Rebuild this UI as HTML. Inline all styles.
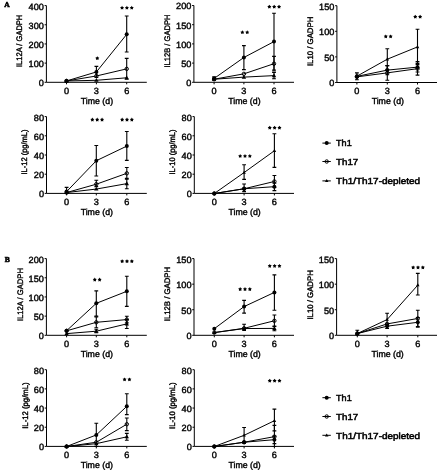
<!DOCTYPE html>
<html><head><meta charset="utf-8"><style>
html,body{margin:0;padding:0;background:#fff;}
svg{display:block;filter:grayscale(1) blur(0.25px);}
text{font-family:"Liberation Sans",sans-serif;fill:#000;text-rendering:geometricPrecision;}
</style></head><body>
<svg width="438" height="471" viewBox="0 0 438 471">
<rect width="438" height="471" fill="#fff"/>
<path d="M46.4 5.6V82.3H146.8" fill="none" stroke="#000" stroke-width="1.0"/>
<path d="M44.6 82.3H46.4" stroke="#000" stroke-width="1.0"/>
<text x="43.9" y="86.25" font-size="9" text-anchor="end" textLength="5.1" lengthAdjust="spacingAndGlyphs" stroke="#000" stroke-width="0.4">0</text>
<path d="M44.6 63.12H46.4" stroke="#000" stroke-width="1.0"/>
<text x="43.9" y="67.08" font-size="9" text-anchor="end" textLength="15.3" lengthAdjust="spacingAndGlyphs" stroke="#000" stroke-width="0.4">100</text>
<path d="M44.6 43.95H46.4" stroke="#000" stroke-width="1.0"/>
<text x="43.9" y="47.9" font-size="9" text-anchor="end" textLength="15.3" lengthAdjust="spacingAndGlyphs" stroke="#000" stroke-width="0.4">200</text>
<path d="M44.6 24.77H46.4" stroke="#000" stroke-width="1.0"/>
<text x="43.9" y="28.72" font-size="9" text-anchor="end" textLength="15.3" lengthAdjust="spacingAndGlyphs" stroke="#000" stroke-width="0.4">300</text>
<path d="M44.6 5.6H46.4" stroke="#000" stroke-width="1.0"/>
<text x="43.9" y="9.55" font-size="9" text-anchor="end" textLength="15.3" lengthAdjust="spacingAndGlyphs" stroke="#000" stroke-width="0.4">400</text>
<path d="M66.5 82.3V84.3" stroke="#000" stroke-width="1.0"/>
<text x="66.5" y="93.8" font-size="9" text-anchor="middle" textLength="5.1" lengthAdjust="spacingAndGlyphs" stroke="#000" stroke-width="0.4">0</text>
<path d="M96.4 82.3V84.3" stroke="#000" stroke-width="1.0"/>
<text x="96.4" y="93.8" font-size="9" text-anchor="middle" textLength="5.1" lengthAdjust="spacingAndGlyphs" stroke="#000" stroke-width="0.4">3</text>
<path d="M126.7 82.3V84.3" stroke="#000" stroke-width="1.0"/>
<text x="126.7" y="93.8" font-size="9" text-anchor="middle" textLength="5.1" lengthAdjust="spacingAndGlyphs" stroke="#000" stroke-width="0.4">6</text>
<text x="96.9" y="103.6" font-size="8.8" text-anchor="middle" textLength="32.3" lengthAdjust="spacingAndGlyphs" stroke="#000" stroke-width="0.4">Time (d)</text>
<text x="22.4" y="40.85" font-size="8" text-anchor="middle" textLength="52.3" lengthAdjust="spacingAndGlyphs" transform="rotate(-90 22.4 40.85)" stroke="#000" stroke-width="0.4">IL12A / GADPH</text>
<path d="M66.5 80.96 L96.4 71.95 L126.7 34.36" fill="none" stroke="#000" stroke-width="1.0"/>
<path d="M66.5 80.96 L96.4 75.97 L126.7 68.88" fill="none" stroke="#000" stroke-width="1.0"/>
<path d="M66.5 80.96 L96.4 80.31 L126.7 77.79" fill="none" stroke="#000" stroke-width="1.0"/>
<path d="M96.4 77.51V66.38M94.5 66.38H98.3M94.5 77.51H98.3" stroke="#000" stroke-width="1.1" fill="none"/>
<path d="M126.7 52V15.95M124.8 15.95H128.6M124.8 52H128.6" stroke="#000" stroke-width="1.1" fill="none"/>
<path d="M126.7 79.23V58.33M124.8 58.33H128.6M124.8 79.23H128.6" stroke="#000" stroke-width="1.1" fill="none"/>
<circle cx="66.5" cy="80.96" r="1.7" fill="none" stroke="#000" stroke-width="1"/>
<circle cx="96.4" cy="75.97" r="1.7" fill="none" stroke="#000" stroke-width="1"/>
<circle cx="126.7" cy="68.88" r="1.7" fill="none" stroke="#000" stroke-width="1"/>
<path d="M66.5 78.58L68.69 82.48L64.31 82.48Z" fill="#000"/>
<path d="M96.4 77.93L98.59 81.83L94.22 81.83Z" fill="#000"/>
<path d="M126.7 75.42L128.88 79.31L124.52 79.31Z" fill="#000"/>
<circle cx="66.5" cy="80.96" r="2" fill="#000"/>
<circle cx="96.4" cy="71.95" r="2" fill="#000"/>
<circle cx="126.7" cy="34.36" r="2" fill="#000"/>
<path d="M97.3 56.2L98.01 57.33L99.3 57.65L98.44 58.67L98.53 60L97.3 59.5L96.07 60L96.16 58.67L95.3 57.65L96.59 57.33Z" fill="#000"/>
<path d="M122.05 5.8L122.76 6.93L124.05 7.25L123.19 8.27L123.28 9.6L122.05 9.1L120.82 9.6L120.91 8.27L120.05 7.25L121.34 6.93Z" fill="#000"/>
<path d="M126.9 5.8L127.61 6.93L128.9 7.25L128.04 8.27L128.13 9.6L126.9 9.1L125.67 9.6L125.76 8.27L124.9 7.25L126.19 6.93Z" fill="#000"/>
<path d="M131.75 5.8L132.46 6.93L133.75 7.25L132.89 8.27L132.98 9.6L131.75 9.1L130.52 9.6L130.61 8.27L129.75 7.25L131.04 6.93Z" fill="#000"/>
<path d="M193.9 5.5V82.3H294" fill="none" stroke="#000" stroke-width="1.0"/>
<path d="M192.1 82.3H193.9" stroke="#000" stroke-width="1.0"/>
<text x="191.4" y="86.25" font-size="9" text-anchor="end" textLength="5.1" lengthAdjust="spacingAndGlyphs" stroke="#000" stroke-width="0.4">0</text>
<path d="M192.1 63.1H193.9" stroke="#000" stroke-width="1.0"/>
<text x="191.4" y="67.05" font-size="9" text-anchor="end" textLength="10.2" lengthAdjust="spacingAndGlyphs" stroke="#000" stroke-width="0.4">50</text>
<path d="M192.1 43.9H193.9" stroke="#000" stroke-width="1.0"/>
<text x="191.4" y="47.85" font-size="9" text-anchor="end" textLength="15.3" lengthAdjust="spacingAndGlyphs" stroke="#000" stroke-width="0.4">100</text>
<path d="M192.1 24.7H193.9" stroke="#000" stroke-width="1.0"/>
<text x="191.4" y="28.65" font-size="9" text-anchor="end" textLength="15.3" lengthAdjust="spacingAndGlyphs" stroke="#000" stroke-width="0.4">150</text>
<path d="M192.1 5.5H193.9" stroke="#000" stroke-width="1.0"/>
<text x="191.4" y="9.45" font-size="9" text-anchor="end" textLength="15.3" lengthAdjust="spacingAndGlyphs" stroke="#000" stroke-width="0.4">200</text>
<path d="M214.1 82.3V84.3" stroke="#000" stroke-width="1.0"/>
<text x="214.1" y="93.8" font-size="9" text-anchor="middle" textLength="5.1" lengthAdjust="spacingAndGlyphs" stroke="#000" stroke-width="0.4">0</text>
<path d="M243.9 82.3V84.3" stroke="#000" stroke-width="1.0"/>
<text x="243.9" y="93.8" font-size="9" text-anchor="middle" textLength="5.1" lengthAdjust="spacingAndGlyphs" stroke="#000" stroke-width="0.4">3</text>
<path d="M274 82.3V84.3" stroke="#000" stroke-width="1.0"/>
<text x="274" y="93.8" font-size="9" text-anchor="middle" textLength="5.1" lengthAdjust="spacingAndGlyphs" stroke="#000" stroke-width="0.4">6</text>
<text x="244.4" y="103.6" font-size="8.8" text-anchor="middle" textLength="32.3" lengthAdjust="spacingAndGlyphs" stroke="#000" stroke-width="0.4">Time (d)</text>
<text x="170.4" y="41.05" font-size="8" text-anchor="middle" textLength="53" lengthAdjust="spacingAndGlyphs" transform="rotate(-90 170.4 41.05)" stroke="#000" stroke-width="0.4">IL12B / GADPH</text>
<path d="M214.1 78.46 L243.9 57.49 L274 41.6" fill="none" stroke="#000" stroke-width="1.0"/>
<path d="M214.1 79.23 L243.9 73.85 L274 63.71" fill="none" stroke="#000" stroke-width="1.0"/>
<path d="M214.1 79.23 L243.9 77.12 L274 75.62" fill="none" stroke="#000" stroke-width="1.0"/>
<path d="M214.1 80V76.92M212.2 76.92H216M212.2 80H216" stroke="#000" stroke-width="1.1" fill="none"/>
<path d="M243.9 69.63V45.59M242 45.59H245.8M242 69.63H245.8" stroke="#000" stroke-width="1.1" fill="none"/>
<path d="M274 70.01V13.18M272.1 13.18H275.9M272.1 70.01H275.9" stroke="#000" stroke-width="1.1" fill="none"/>
<path d="M274 71.01V56.42M272.1 56.42H275.9M272.1 71.01H275.9" stroke="#000" stroke-width="1.1" fill="none"/>
<path d="M274 78.69V72.55M272.1 72.55H275.9M272.1 78.69H275.9" stroke="#000" stroke-width="1.1" fill="none"/>
<circle cx="214.1" cy="79.23" r="1.7" fill="none" stroke="#000" stroke-width="1"/>
<circle cx="243.9" cy="73.85" r="1.7" fill="none" stroke="#000" stroke-width="1"/>
<circle cx="274" cy="63.71" r="1.7" fill="none" stroke="#000" stroke-width="1"/>
<path d="M214.1 76.85L216.28 80.75L211.91 80.75Z" fill="#000"/>
<path d="M243.9 74.74L246.09 78.64L241.72 78.64Z" fill="#000"/>
<path d="M274 73.24L276.19 77.14L271.81 77.14Z" fill="#000"/>
<circle cx="214.1" cy="78.46" r="2" fill="#000"/>
<circle cx="243.9" cy="57.49" r="2" fill="#000"/>
<circle cx="274" cy="41.6" r="2" fill="#000"/>
<path d="M242.38 30.3L243.08 31.43L244.37 31.75L243.52 32.77L243.61 34.1L242.38 33.6L241.14 34.1L241.23 32.77L240.38 31.75L241.67 31.43Z" fill="#000"/>
<path d="M247.23 30.3L247.93 31.43L249.22 31.75L248.37 32.77L248.46 34.1L247.23 33.6L245.99 34.1L246.08 32.77L245.23 31.75L246.52 31.43Z" fill="#000"/>
<path d="M269.35 4.7L270.06 5.83L271.35 6.15L270.49 7.17L270.58 8.5L269.35 8L268.12 8.5L268.21 7.17L267.35 6.15L268.64 5.83Z" fill="#000"/>
<path d="M274.2 4.7L274.91 5.83L276.2 6.15L275.34 7.17L275.43 8.5L274.2 8L272.97 8.5L273.06 7.17L272.2 6.15L273.49 5.83Z" fill="#000"/>
<path d="M279.05 4.7L279.76 5.83L281.05 6.15L280.19 7.17L280.28 8.5L279.05 8L277.82 8.5L277.91 7.17L277.05 6.15L278.34 5.83Z" fill="#000"/>
<path d="M336.9 5.7V82.5H437" fill="none" stroke="#000" stroke-width="1.0"/>
<path d="M335.1 82.5H336.9" stroke="#000" stroke-width="1.0"/>
<text x="334.4" y="86.45" font-size="9" text-anchor="end" textLength="5.1" lengthAdjust="spacingAndGlyphs" stroke="#000" stroke-width="0.4">0</text>
<path d="M335.1 56.9H336.9" stroke="#000" stroke-width="1.0"/>
<text x="334.4" y="60.85" font-size="9" text-anchor="end" textLength="10.2" lengthAdjust="spacingAndGlyphs" stroke="#000" stroke-width="0.4">50</text>
<path d="M335.1 31.3H336.9" stroke="#000" stroke-width="1.0"/>
<text x="334.4" y="35.25" font-size="9" text-anchor="end" textLength="15.3" lengthAdjust="spacingAndGlyphs" stroke="#000" stroke-width="0.4">100</text>
<path d="M335.1 5.7H336.9" stroke="#000" stroke-width="1.0"/>
<text x="334.4" y="9.65" font-size="9" text-anchor="end" textLength="15.3" lengthAdjust="spacingAndGlyphs" stroke="#000" stroke-width="0.4">150</text>
<path d="M356.9 82.5V84.5" stroke="#000" stroke-width="1.0"/>
<text x="356.9" y="94" font-size="9" text-anchor="middle" textLength="5.1" lengthAdjust="spacingAndGlyphs" stroke="#000" stroke-width="0.4">0</text>
<path d="M387.3 82.5V84.5" stroke="#000" stroke-width="1.0"/>
<text x="387.3" y="94" font-size="9" text-anchor="middle" textLength="5.1" lengthAdjust="spacingAndGlyphs" stroke="#000" stroke-width="0.4">3</text>
<path d="M417.5 82.5V84.5" stroke="#000" stroke-width="1.0"/>
<text x="417.5" y="94" font-size="9" text-anchor="middle" textLength="5.1" lengthAdjust="spacingAndGlyphs" stroke="#000" stroke-width="0.4">6</text>
<text x="387.8" y="103.8" font-size="8.8" text-anchor="middle" textLength="32.3" lengthAdjust="spacingAndGlyphs" stroke="#000" stroke-width="0.4">Time (d)</text>
<text x="313.4" y="41.4" font-size="8" text-anchor="middle" textLength="49.4" lengthAdjust="spacingAndGlyphs" transform="rotate(-90 313.4 41.4)" stroke="#000" stroke-width="0.4">IL10 / GADPH</text>
<path d="M356.9 76.2 L387.3 59.2 L417.5 46.92" fill="none" stroke="#000" stroke-width="1.0"/>
<path d="M356.9 76.36 L387.3 70.11 L417.5 67.14" fill="none" stroke="#000" stroke-width="1.0"/>
<path d="M356.9 76.87 L387.3 72.87 L417.5 68.68" fill="none" stroke="#000" stroke-width="1.0"/>
<path d="M356.9 79.79V72.87M355 72.87H358.8M355 79.79H358.8" stroke="#000" stroke-width="1.1" fill="none"/>
<path d="M387.3 69.44V48.81M385.4 48.81H389.2M385.4 69.44H389.2" stroke="#000" stroke-width="1.1" fill="none"/>
<path d="M417.5 64.58V29.25M415.6 29.25H419.4M415.6 64.58H419.4" stroke="#000" stroke-width="1.1" fill="none"/>
<path d="M387.3 74.82V65.6M385.4 65.6H389.2M385.4 74.82H389.2" stroke="#000" stroke-width="1.1" fill="none"/>
<path d="M417.5 72V61.61M415.6 61.61H419.4M415.6 72H419.4" stroke="#000" stroke-width="1.1" fill="none"/>
<path d="M387.3 80.2V65.6M385.4 65.6H389.2M385.4 80.2H389.2" stroke="#000" stroke-width="1.1" fill="none"/>
<path d="M417.5 75.08V63.4M415.6 63.4H419.4M415.6 75.08H419.4" stroke="#000" stroke-width="1.1" fill="none"/>
<circle cx="356.9" cy="76.87" r="1.7" fill="none" stroke="#000" stroke-width="1"/>
<circle cx="387.3" cy="72.87" r="1.7" fill="none" stroke="#000" stroke-width="1"/>
<circle cx="417.5" cy="68.68" r="1.7" fill="none" stroke="#000" stroke-width="1"/>
<path d="M356.9 74.3L358.65 77.42L355.15 77.42Z" fill="#000"/>
<path d="M387.3 57.3L389.05 60.42L385.55 60.42Z" fill="#000"/>
<path d="M417.5 45.02L419.25 48.13L415.75 48.13Z" fill="#000"/>
<circle cx="356.9" cy="76.36" r="2" fill="#000"/>
<circle cx="387.3" cy="70.11" r="2" fill="#000"/>
<circle cx="417.5" cy="67.14" r="2" fill="#000"/>
<path d="M385.77 34.4L386.48 35.53L387.77 35.85L386.92 36.87L387.01 38.2L385.77 37.7L384.54 38.2L384.63 36.87L383.78 35.85L385.07 35.53Z" fill="#000"/>
<path d="M390.62 34.4L391.33 35.53L392.62 35.85L391.77 36.87L391.86 38.2L390.62 37.7L389.39 38.2L389.48 36.87L388.63 35.85L389.92 35.53Z" fill="#000"/>
<path d="M415.27 14.7L415.98 15.83L417.27 16.15L416.42 17.17L416.51 18.5L415.27 18L414.04 18.5L414.13 17.17L413.28 16.15L414.57 15.83Z" fill="#000"/>
<path d="M420.12 14.7L420.83 15.83L422.12 16.15L421.27 17.17L421.36 18.5L420.12 18L418.89 18.5L418.98 17.17L418.13 16.15L419.42 15.83Z" fill="#000"/>
<path d="M46.5 116.6V193.4H146.8" fill="none" stroke="#000" stroke-width="1.0"/>
<path d="M44.7 193.4H46.5" stroke="#000" stroke-width="1.0"/>
<text x="44" y="197.35" font-size="9" text-anchor="end" textLength="5.1" lengthAdjust="spacingAndGlyphs" stroke="#000" stroke-width="0.4">0</text>
<path d="M44.7 174.2H46.5" stroke="#000" stroke-width="1.0"/>
<text x="44" y="178.15" font-size="9" text-anchor="end" textLength="10.2" lengthAdjust="spacingAndGlyphs" stroke="#000" stroke-width="0.4">20</text>
<path d="M44.7 155H46.5" stroke="#000" stroke-width="1.0"/>
<text x="44" y="158.95" font-size="9" text-anchor="end" textLength="10.2" lengthAdjust="spacingAndGlyphs" stroke="#000" stroke-width="0.4">40</text>
<path d="M44.7 135.8H46.5" stroke="#000" stroke-width="1.0"/>
<text x="44" y="139.75" font-size="9" text-anchor="end" textLength="10.2" lengthAdjust="spacingAndGlyphs" stroke="#000" stroke-width="0.4">60</text>
<path d="M44.7 116.6H46.5" stroke="#000" stroke-width="1.0"/>
<text x="44" y="120.55" font-size="9" text-anchor="end" textLength="10.2" lengthAdjust="spacingAndGlyphs" stroke="#000" stroke-width="0.4">80</text>
<path d="M66.6 193.4V195.4" stroke="#000" stroke-width="1.0"/>
<text x="66.6" y="204.9" font-size="9" text-anchor="middle" textLength="5.1" lengthAdjust="spacingAndGlyphs" stroke="#000" stroke-width="0.4">0</text>
<path d="M96.3 193.4V195.4" stroke="#000" stroke-width="1.0"/>
<text x="96.3" y="204.9" font-size="9" text-anchor="middle" textLength="5.1" lengthAdjust="spacingAndGlyphs" stroke="#000" stroke-width="0.4">3</text>
<path d="M126.8 193.4V195.4" stroke="#000" stroke-width="1.0"/>
<text x="126.8" y="204.9" font-size="9" text-anchor="middle" textLength="5.1" lengthAdjust="spacingAndGlyphs" stroke="#000" stroke-width="0.4">6</text>
<text x="96.8" y="214.7" font-size="8.8" text-anchor="middle" textLength="32.3" lengthAdjust="spacingAndGlyphs" stroke="#000" stroke-width="0.4">Time (d)</text>
<text x="27.4" y="152" font-size="8" text-anchor="middle" textLength="45" lengthAdjust="spacingAndGlyphs" transform="rotate(-90 27.4 152)" stroke="#000" stroke-width="0.4">IL-12 (pg/mL)</text>
<path d="M66.6 191.6 L96.3 160.72 L126.8 146.12" fill="none" stroke="#000" stroke-width="1.0"/>
<path d="M66.6 192.55 L96.3 184.21 L126.8 173.32" fill="none" stroke="#000" stroke-width="1.0"/>
<path d="M66.6 192.55 L96.3 189.05 L126.8 183.65" fill="none" stroke="#000" stroke-width="1.0"/>
<path d="M66.6 193.5V187.34M64.7 187.34H68.5M64.7 193.5H68.5" stroke="#000" stroke-width="1.1" fill="none"/>
<path d="M96.3 176.07V145.56M94.4 145.56H98.2M94.4 176.07H98.2" stroke="#000" stroke-width="1.1" fill="none"/>
<path d="M126.8 160.34V131.44M124.9 131.44H128.7M124.9 160.34H128.7" stroke="#000" stroke-width="1.1" fill="none"/>
<path d="M96.3 186.58V180.24M94.4 180.24H98.2M94.4 186.58H98.2" stroke="#000" stroke-width="1.1" fill="none"/>
<path d="M126.8 179.29V167.44M124.9 167.44H128.7M124.9 179.29H128.7" stroke="#000" stroke-width="1.1" fill="none"/>
<path d="M126.8 188.76V178.34M124.9 178.34H128.7M124.9 188.76H128.7" stroke="#000" stroke-width="1.1" fill="none"/>
<circle cx="66.6" cy="192.55" r="1.7" fill="none" stroke="#000" stroke-width="1"/>
<circle cx="96.3" cy="184.21" r="1.7" fill="none" stroke="#000" stroke-width="1"/>
<circle cx="126.8" cy="173.32" r="1.7" fill="none" stroke="#000" stroke-width="1"/>
<path d="M66.6 190.18L68.78 194.07L64.41 194.07Z" fill="#000"/>
<path d="M96.3 186.67L98.48 190.57L94.11 190.57Z" fill="#000"/>
<path d="M126.8 181.27L128.98 185.17L124.61 185.17Z" fill="#000"/>
<circle cx="66.6" cy="191.6" r="2" fill="#000"/>
<circle cx="96.3" cy="160.72" r="2" fill="#000"/>
<circle cx="126.8" cy="146.12" r="2" fill="#000"/>
<path d="M92.35 117.6L93.06 118.73L94.35 119.05L93.49 120.07L93.58 121.4L92.35 120.9L91.12 121.4L91.21 120.07L90.35 119.05L91.64 118.73Z" fill="#000"/>
<path d="M97.2 117.6L97.91 118.73L99.2 119.05L98.34 120.07L98.43 121.4L97.2 120.9L95.97 121.4L96.06 120.07L95.2 119.05L96.49 118.73Z" fill="#000"/>
<path d="M102.05 117.6L102.76 118.73L104.05 119.05L103.19 120.07L103.28 121.4L102.05 120.9L100.82 121.4L100.91 120.07L100.05 119.05L101.34 118.73Z" fill="#000"/>
<path d="M122.15 117.6L122.86 118.73L124.15 119.05L123.29 120.07L123.38 121.4L122.15 120.9L120.92 121.4L121.01 120.07L120.15 119.05L121.44 118.73Z" fill="#000"/>
<path d="M127 117.6L127.71 118.73L129 119.05L128.14 120.07L128.23 121.4L127 120.9L125.77 121.4L125.86 120.07L125 119.05L126.29 118.73Z" fill="#000"/>
<path d="M131.85 117.6L132.56 118.73L133.85 119.05L132.99 120.07L133.08 121.4L131.85 120.9L130.62 121.4L130.71 120.07L129.85 119.05L131.14 118.73Z" fill="#000"/>
<path d="M194.3 116.6V193.4H294" fill="none" stroke="#000" stroke-width="1.0"/>
<path d="M192.5 193.4H194.3" stroke="#000" stroke-width="1.0"/>
<text x="191.8" y="197.35" font-size="9" text-anchor="end" textLength="5.1" lengthAdjust="spacingAndGlyphs" stroke="#000" stroke-width="0.4">0</text>
<path d="M192.5 174.2H194.3" stroke="#000" stroke-width="1.0"/>
<text x="191.8" y="178.15" font-size="9" text-anchor="end" textLength="10.2" lengthAdjust="spacingAndGlyphs" stroke="#000" stroke-width="0.4">20</text>
<path d="M192.5 155H194.3" stroke="#000" stroke-width="1.0"/>
<text x="191.8" y="158.95" font-size="9" text-anchor="end" textLength="10.2" lengthAdjust="spacingAndGlyphs" stroke="#000" stroke-width="0.4">40</text>
<path d="M192.5 135.8H194.3" stroke="#000" stroke-width="1.0"/>
<text x="191.8" y="139.75" font-size="9" text-anchor="end" textLength="10.2" lengthAdjust="spacingAndGlyphs" stroke="#000" stroke-width="0.4">60</text>
<path d="M192.5 116.6H194.3" stroke="#000" stroke-width="1.0"/>
<text x="191.8" y="120.55" font-size="9" text-anchor="end" textLength="10.2" lengthAdjust="spacingAndGlyphs" stroke="#000" stroke-width="0.4">80</text>
<path d="M214.3 193.4V195.4" stroke="#000" stroke-width="1.0"/>
<text x="214.3" y="204.9" font-size="9" text-anchor="middle" textLength="5.1" lengthAdjust="spacingAndGlyphs" stroke="#000" stroke-width="0.4">0</text>
<path d="M244.1 193.4V195.4" stroke="#000" stroke-width="1.0"/>
<text x="244.1" y="204.9" font-size="9" text-anchor="middle" textLength="5.1" lengthAdjust="spacingAndGlyphs" stroke="#000" stroke-width="0.4">3</text>
<path d="M274.4 193.4V195.4" stroke="#000" stroke-width="1.0"/>
<text x="274.4" y="204.9" font-size="9" text-anchor="middle" textLength="5.1" lengthAdjust="spacingAndGlyphs" stroke="#000" stroke-width="0.4">6</text>
<text x="244.6" y="214.7" font-size="8.8" text-anchor="middle" textLength="32.3" lengthAdjust="spacingAndGlyphs" stroke="#000" stroke-width="0.4">Time (d)</text>
<text x="174.9" y="152" font-size="8" text-anchor="middle" textLength="45" lengthAdjust="spacingAndGlyphs" transform="rotate(-90 174.9 152)" stroke="#000" stroke-width="0.4">IL-10 (pg/mL)</text>
<path d="M214.3 193.5 L244.1 172.56 L274.4 150.77" fill="none" stroke="#000" stroke-width="1.0"/>
<path d="M214.3 193.5 L244.1 188.76 L274.4 181.47" fill="none" stroke="#000" stroke-width="1.0"/>
<path d="M214.3 193.5 L244.1 188.76 L274.4 186.68" fill="none" stroke="#000" stroke-width="1.0"/>
<path d="M244.1 179.38V164.7M242.2 164.7H246M242.2 179.38H246" stroke="#000" stroke-width="1.1" fill="none"/>
<path d="M274.4 167.35V133.71M272.5 133.71H276.3M272.5 167.35H276.3" stroke="#000" stroke-width="1.1" fill="none"/>
<path d="M244.1 191.6V184.03M242.2 184.03H246M242.2 191.6H246" stroke="#000" stroke-width="1.1" fill="none"/>
<path d="M274.4 187.53V175.5M272.5 175.5H276.3M272.5 187.53H276.3" stroke="#000" stroke-width="1.1" fill="none"/>
<path d="M274.4 190.66V183.08M272.5 183.08H276.3M272.5 190.66H276.3" stroke="#000" stroke-width="1.1" fill="none"/>
<circle cx="214.3" cy="193.5" r="1.7" fill="none" stroke="#000" stroke-width="1"/>
<circle cx="244.1" cy="188.76" r="1.7" fill="none" stroke="#000" stroke-width="1"/>
<circle cx="274.4" cy="181.47" r="1.7" fill="none" stroke="#000" stroke-width="1"/>
<path d="M214.3 191.6L216.05 194.72L212.55 194.72Z" fill="#000"/>
<path d="M244.1 170.66L245.85 173.78L242.35 173.78Z" fill="#000"/>
<path d="M274.4 148.87L276.15 151.98L272.65 151.98Z" fill="#000"/>
<circle cx="214.3" cy="193.5" r="2" fill="#000"/>
<circle cx="244.1" cy="188.76" r="2" fill="#000"/>
<circle cx="274.4" cy="186.68" r="2" fill="#000"/>
<path d="M240.15 154L240.86 155.13L242.15 155.45L241.29 156.47L241.38 157.8L240.15 157.3L238.92 157.8L239.01 156.47L238.15 155.45L239.44 155.13Z" fill="#000"/>
<path d="M245 154L245.71 155.13L247 155.45L246.14 156.47L246.23 157.8L245 157.3L243.77 157.8L243.86 156.47L243 155.45L244.29 155.13Z" fill="#000"/>
<path d="M249.85 154L250.56 155.13L251.85 155.45L250.99 156.47L251.08 157.8L249.85 157.3L248.62 157.8L248.71 156.47L247.85 155.45L249.14 155.13Z" fill="#000"/>
<path d="M269.75 125.7L270.46 126.83L271.75 127.15L270.89 128.17L270.98 129.5L269.75 129L268.52 129.5L268.61 128.17L267.75 127.15L269.04 126.83Z" fill="#000"/>
<path d="M274.6 125.7L275.31 126.83L276.6 127.15L275.74 128.17L275.83 129.5L274.6 129L273.37 129.5L273.46 128.17L272.6 127.15L273.89 126.83Z" fill="#000"/>
<path d="M279.45 125.7L280.16 126.83L281.45 127.15L280.59 128.17L280.68 129.5L279.45 129L278.22 129.5L278.31 128.17L277.45 127.15L278.74 126.83Z" fill="#000"/>
<path d="M46.4 258.6V335.3H146.8" fill="none" stroke="#000" stroke-width="1.0"/>
<path d="M44.6 335.3H46.4" stroke="#000" stroke-width="1.0"/>
<text x="43.9" y="339.25" font-size="9" text-anchor="end" textLength="5.1" lengthAdjust="spacingAndGlyphs" stroke="#000" stroke-width="0.4">0</text>
<path d="M44.6 316.12H46.4" stroke="#000" stroke-width="1.0"/>
<text x="43.9" y="320.07" font-size="9" text-anchor="end" textLength="10.2" lengthAdjust="spacingAndGlyphs" stroke="#000" stroke-width="0.4">50</text>
<path d="M44.6 296.95H46.4" stroke="#000" stroke-width="1.0"/>
<text x="43.9" y="300.9" font-size="9" text-anchor="end" textLength="15.3" lengthAdjust="spacingAndGlyphs" stroke="#000" stroke-width="0.4">100</text>
<path d="M44.6 277.78H46.4" stroke="#000" stroke-width="1.0"/>
<text x="43.9" y="281.73" font-size="9" text-anchor="end" textLength="15.3" lengthAdjust="spacingAndGlyphs" stroke="#000" stroke-width="0.4">150</text>
<path d="M44.6 258.6H46.4" stroke="#000" stroke-width="1.0"/>
<text x="43.9" y="262.55" font-size="9" text-anchor="end" textLength="15.3" lengthAdjust="spacingAndGlyphs" stroke="#000" stroke-width="0.4">200</text>
<path d="M66.6 335.3V337.3" stroke="#000" stroke-width="1.0"/>
<text x="66.6" y="346.8" font-size="9" text-anchor="middle" textLength="5.1" lengthAdjust="spacingAndGlyphs" stroke="#000" stroke-width="0.4">0</text>
<path d="M96.3 335.3V337.3" stroke="#000" stroke-width="1.0"/>
<text x="96.3" y="346.8" font-size="9" text-anchor="middle" textLength="5.1" lengthAdjust="spacingAndGlyphs" stroke="#000" stroke-width="0.4">3</text>
<path d="M126.8 335.3V337.3" stroke="#000" stroke-width="1.0"/>
<text x="126.8" y="346.8" font-size="9" text-anchor="middle" textLength="5.1" lengthAdjust="spacingAndGlyphs" stroke="#000" stroke-width="0.4">6</text>
<text x="96.8" y="356.6" font-size="8.8" text-anchor="middle" textLength="32.3" lengthAdjust="spacingAndGlyphs" stroke="#000" stroke-width="0.4">Time (d)</text>
<text x="23.2" y="294.55" font-size="8" text-anchor="middle" textLength="53" lengthAdjust="spacingAndGlyphs" transform="rotate(-90 23.2 294.55)" stroke="#000" stroke-width="0.4">IL12A / GADPH</text>
<path d="M66.6 330.71 L96.3 303.3 L126.8 291.32" fill="none" stroke="#000" stroke-width="1.0"/>
<path d="M66.6 330.82 L96.3 322.31 L126.8 319.59" fill="none" stroke="#000" stroke-width="1.0"/>
<path d="M66.6 333.62 L96.3 331.2 L126.8 323.9" fill="none" stroke="#000" stroke-width="1.0"/>
<path d="M96.3 316.12V290.9M94.4 290.9H98.2M94.4 316.12H98.2" stroke="#000" stroke-width="1.1" fill="none"/>
<path d="M126.8 306.4V276.2M124.9 276.2H128.7M124.9 306.4H128.7" stroke="#000" stroke-width="1.1" fill="none"/>
<path d="M96.3 327.8V316.83M94.4 316.83H98.2M94.4 327.8H98.2" stroke="#000" stroke-width="1.1" fill="none"/>
<path d="M126.8 322.88V316.3M124.9 316.3H128.7M124.9 322.88H128.7" stroke="#000" stroke-width="1.1" fill="none"/>
<path d="M96.3 332.71V329.31M94.4 329.31H98.2M94.4 332.71H98.2" stroke="#000" stroke-width="1.1" fill="none"/>
<path d="M126.8 328.55V319.48M124.9 319.48H128.7M124.9 328.55H128.7" stroke="#000" stroke-width="1.1" fill="none"/>
<circle cx="66.6" cy="330.82" r="1.7" fill="none" stroke="#000" stroke-width="1"/>
<circle cx="96.3" cy="322.31" r="1.7" fill="none" stroke="#000" stroke-width="1"/>
<circle cx="126.8" cy="319.59" r="1.7" fill="none" stroke="#000" stroke-width="1"/>
<path d="M66.6 331.24L68.78 335.14L64.41 335.14Z" fill="#000"/>
<path d="M96.3 328.82L98.48 332.72L94.11 332.72Z" fill="#000"/>
<path d="M126.8 321.53L128.98 325.42L124.61 325.42Z" fill="#000"/>
<circle cx="66.6" cy="330.71" r="2" fill="#000"/>
<circle cx="96.3" cy="303.3" r="2" fill="#000"/>
<circle cx="126.8" cy="291.32" r="2" fill="#000"/>
<path d="M94.78 277.6L95.48 278.73L96.77 279.05L95.92 280.07L96.01 281.4L94.78 280.9L93.54 281.4L93.63 280.07L92.78 279.05L94.07 278.73Z" fill="#000"/>
<path d="M99.62 277.6L100.33 278.73L101.62 279.05L100.77 280.07L100.86 281.4L99.62 280.9L98.39 281.4L98.48 280.07L97.63 279.05L98.92 278.73Z" fill="#000"/>
<path d="M122.15 259.2L122.86 260.33L124.15 260.65L123.29 261.67L123.38 263L122.15 262.5L120.92 263L121.01 261.67L120.15 260.65L121.44 260.33Z" fill="#000"/>
<path d="M127 259.2L127.71 260.33L129 260.65L128.14 261.67L128.23 263L127 262.5L125.77 263L125.86 261.67L125 260.65L126.29 260.33Z" fill="#000"/>
<path d="M131.85 259.2L132.56 260.33L133.85 260.65L132.99 261.67L133.08 263L131.85 262.5L130.62 263L130.71 261.67L129.85 260.65L131.14 260.33Z" fill="#000"/>
<path d="M194 258.6V335.3H294" fill="none" stroke="#000" stroke-width="1.0"/>
<path d="M192.2 335.3H194" stroke="#000" stroke-width="1.0"/>
<text x="191.5" y="339.25" font-size="9" text-anchor="end" textLength="5.1" lengthAdjust="spacingAndGlyphs" stroke="#000" stroke-width="0.4">0</text>
<path d="M192.2 309.73H194" stroke="#000" stroke-width="1.0"/>
<text x="191.5" y="313.68" font-size="9" text-anchor="end" textLength="10.2" lengthAdjust="spacingAndGlyphs" stroke="#000" stroke-width="0.4">50</text>
<path d="M192.2 284.17H194" stroke="#000" stroke-width="1.0"/>
<text x="191.5" y="288.12" font-size="9" text-anchor="end" textLength="15.3" lengthAdjust="spacingAndGlyphs" stroke="#000" stroke-width="0.4">100</text>
<path d="M192.2 258.6H194" stroke="#000" stroke-width="1.0"/>
<text x="191.5" y="262.55" font-size="9" text-anchor="end" textLength="15.3" lengthAdjust="spacingAndGlyphs" stroke="#000" stroke-width="0.4">150</text>
<path d="M214.3 335.3V337.3" stroke="#000" stroke-width="1.0"/>
<text x="214.3" y="346.8" font-size="9" text-anchor="middle" textLength="5.1" lengthAdjust="spacingAndGlyphs" stroke="#000" stroke-width="0.4">0</text>
<path d="M244.1 335.3V337.3" stroke="#000" stroke-width="1.0"/>
<text x="244.1" y="346.8" font-size="9" text-anchor="middle" textLength="5.1" lengthAdjust="spacingAndGlyphs" stroke="#000" stroke-width="0.4">3</text>
<path d="M274.4 335.3V337.3" stroke="#000" stroke-width="1.0"/>
<text x="274.4" y="346.8" font-size="9" text-anchor="middle" textLength="5.1" lengthAdjust="spacingAndGlyphs" stroke="#000" stroke-width="0.4">6</text>
<text x="244.6" y="356.6" font-size="8.8" text-anchor="middle" textLength="32.3" lengthAdjust="spacingAndGlyphs" stroke="#000" stroke-width="0.4">Time (d)</text>
<text x="169.8" y="294.1" font-size="8" text-anchor="middle" textLength="54.3" lengthAdjust="spacingAndGlyphs" transform="rotate(-90 169.8 294.1)" stroke="#000" stroke-width="0.4">IL12B / GADPH</text>
<path d="M214.3 328.7 L244.1 306.58 L274.4 292.42" fill="none" stroke="#000" stroke-width="1.0"/>
<path d="M214.3 332.58 L244.1 328.3 L274.4 320.79" fill="none" stroke="#000" stroke-width="1.0"/>
<path d="M214.3 332.58 L244.1 328.55 L274.4 328.4" fill="none" stroke="#000" stroke-width="1.0"/>
<path d="M244.1 313.08V300.33M242.2 300.33H246M242.2 313.08H246" stroke="#000" stroke-width="1.1" fill="none"/>
<path d="M274.4 310.21V274.88M272.5 274.88H276.3M272.5 310.21H276.3" stroke="#000" stroke-width="1.1" fill="none"/>
<path d="M244.1 330.57V324.22M242.2 324.22H246M242.2 330.57H246" stroke="#000" stroke-width="1.1" fill="none"/>
<path d="M274.4 326.54V314.99M272.5 314.99H276.3M272.5 326.54H276.3" stroke="#000" stroke-width="1.1" fill="none"/>
<path d="M274.4 330.82V326.03M272.5 326.03H276.3M272.5 330.82H276.3" stroke="#000" stroke-width="1.1" fill="none"/>
<circle cx="214.3" cy="332.58" r="1.7" fill="none" stroke="#000" stroke-width="1"/>
<circle cx="244.1" cy="328.3" r="1.7" fill="none" stroke="#000" stroke-width="1"/>
<circle cx="274.4" cy="320.79" r="1.7" fill="none" stroke="#000" stroke-width="1"/>
<path d="M214.3 330.21L216.49 334.1L212.12 334.1Z" fill="#000"/>
<path d="M244.1 326.18L246.28 330.07L241.91 330.07Z" fill="#000"/>
<path d="M274.4 326.03L276.58 329.92L272.21 329.92Z" fill="#000"/>
<circle cx="214.3" cy="328.7" r="2" fill="#000"/>
<circle cx="244.1" cy="306.58" r="2" fill="#000"/>
<circle cx="274.4" cy="292.42" r="2" fill="#000"/>
<path d="M240.15 287.1L240.86 288.23L242.15 288.55L241.29 289.57L241.38 290.9L240.15 290.4L238.92 290.9L239.01 289.57L238.15 288.55L239.44 288.23Z" fill="#000"/>
<path d="M245 287.1L245.71 288.23L247 288.55L246.14 289.57L246.23 290.9L245 290.4L243.77 290.9L243.86 289.57L243 288.55L244.29 288.23Z" fill="#000"/>
<path d="M249.85 287.1L250.56 288.23L251.85 288.55L250.99 289.57L251.08 290.9L249.85 290.4L248.62 290.9L248.71 289.57L247.85 288.55L249.14 288.23Z" fill="#000"/>
<path d="M269.75 263.9L270.46 265.03L271.75 265.35L270.89 266.37L270.98 267.7L269.75 267.2L268.52 267.7L268.61 266.37L267.75 265.35L269.04 265.03Z" fill="#000"/>
<path d="M274.6 263.9L275.31 265.03L276.6 265.35L275.74 266.37L275.83 267.7L274.6 267.2L273.37 267.7L273.46 266.37L272.6 265.35L273.89 265.03Z" fill="#000"/>
<path d="M279.45 263.9L280.16 265.03L281.45 265.35L280.59 266.37L280.68 267.7L279.45 267.2L278.22 267.7L278.31 266.37L277.45 265.35L278.74 265.03Z" fill="#000"/>
<path d="M336.6 258.6V335.3H437" fill="none" stroke="#000" stroke-width="1.0"/>
<path d="M334.8 335.3H336.6" stroke="#000" stroke-width="1.0"/>
<text x="334.1" y="339.25" font-size="9" text-anchor="end" textLength="5.1" lengthAdjust="spacingAndGlyphs" stroke="#000" stroke-width="0.4">0</text>
<path d="M334.8 309.73H336.6" stroke="#000" stroke-width="1.0"/>
<text x="334.1" y="313.68" font-size="9" text-anchor="end" textLength="10.2" lengthAdjust="spacingAndGlyphs" stroke="#000" stroke-width="0.4">50</text>
<path d="M334.8 284.17H336.6" stroke="#000" stroke-width="1.0"/>
<text x="334.1" y="288.12" font-size="9" text-anchor="end" textLength="15.3" lengthAdjust="spacingAndGlyphs" stroke="#000" stroke-width="0.4">100</text>
<path d="M334.8 258.6H336.6" stroke="#000" stroke-width="1.0"/>
<text x="334.1" y="262.55" font-size="9" text-anchor="end" textLength="15.3" lengthAdjust="spacingAndGlyphs" stroke="#000" stroke-width="0.4">150</text>
<path d="M357.3 335.3V337.3" stroke="#000" stroke-width="1.0"/>
<text x="357.3" y="346.8" font-size="9" text-anchor="middle" textLength="5.1" lengthAdjust="spacingAndGlyphs" stroke="#000" stroke-width="0.4">0</text>
<path d="M387.1 335.3V337.3" stroke="#000" stroke-width="1.0"/>
<text x="387.1" y="346.8" font-size="9" text-anchor="middle" textLength="5.1" lengthAdjust="spacingAndGlyphs" stroke="#000" stroke-width="0.4">3</text>
<path d="M417.8 335.3V337.3" stroke="#000" stroke-width="1.0"/>
<text x="417.8" y="346.8" font-size="9" text-anchor="middle" textLength="5.1" lengthAdjust="spacingAndGlyphs" stroke="#000" stroke-width="0.4">6</text>
<text x="387.6" y="356.6" font-size="8.8" text-anchor="middle" textLength="32.3" lengthAdjust="spacingAndGlyphs" stroke="#000" stroke-width="0.4">Time (d)</text>
<text x="313.2" y="294.9" font-size="8" text-anchor="middle" textLength="49.4" lengthAdjust="spacingAndGlyphs" transform="rotate(-90 313.2 294.9)" stroke="#000" stroke-width="0.4">IL10 / GADPH</text>
<path d="M357.3 333.59 L387.1 319.58 L417.8 285.11" fill="none" stroke="#000" stroke-width="1.0"/>
<path d="M357.3 333.59 L387.1 323.92 L417.8 318.47" fill="none" stroke="#000" stroke-width="1.0"/>
<path d="M357.3 333.59 L387.1 326.18 L417.8 322.3" fill="none" stroke="#000" stroke-width="1.0"/>
<path d="M357.3 334.6V330.32M355.4 330.32H359.2M355.4 334.6H359.2" stroke="#000" stroke-width="1.1" fill="none"/>
<path d="M387.1 326.03V313.18M385.2 313.18H389M385.2 326.03H389" stroke="#000" stroke-width="1.1" fill="none"/>
<path d="M417.8 294.99V273.41M415.9 273.41H419.7M415.9 294.99H419.7" stroke="#000" stroke-width="1.1" fill="none"/>
<path d="M417.8 326.54V310.31M415.9 310.31H419.7M415.9 326.54H419.7" stroke="#000" stroke-width="1.1" fill="none"/>
<path d="M387.1 328.55V324.02M385.2 324.02H389M385.2 328.55H389" stroke="#000" stroke-width="1.1" fill="none"/>
<path d="M417.8 327.19V317.46M415.9 317.46H419.7M415.9 327.19H419.7" stroke="#000" stroke-width="1.1" fill="none"/>
<circle cx="357.3" cy="333.59" r="1.7" fill="none" stroke="#000" stroke-width="1"/>
<circle cx="387.1" cy="323.92" r="1.7" fill="none" stroke="#000" stroke-width="1"/>
<circle cx="417.8" cy="318.47" r="1.7" fill="none" stroke="#000" stroke-width="1"/>
<path d="M357.3 331.69L359.05 334.81L355.55 334.81Z" fill="#000"/>
<path d="M387.1 317.68L388.85 320.8L385.35 320.8Z" fill="#000"/>
<path d="M417.8 283.21L419.55 286.32L416.05 286.32Z" fill="#000"/>
<circle cx="357.3" cy="333.59" r="2" fill="#000"/>
<circle cx="387.1" cy="326.18" r="2" fill="#000"/>
<circle cx="417.8" cy="322.3" r="2" fill="#000"/>
<path d="M413.15 265.4L413.86 266.53L415.15 266.85L414.29 267.87L414.38 269.2L413.15 268.7L411.92 269.2L412.01 267.87L411.15 266.85L412.44 266.53Z" fill="#000"/>
<path d="M418 265.4L418.71 266.53L420 266.85L419.14 267.87L419.23 269.2L418 268.7L416.77 269.2L416.86 267.87L416 266.85L417.29 266.53Z" fill="#000"/>
<path d="M422.85 265.4L423.56 266.53L424.85 266.85L423.99 267.87L424.08 269.2L422.85 268.7L421.62 269.2L421.71 267.87L420.85 266.85L422.14 266.53Z" fill="#000"/>
<path d="M46.5 369.7V446.4H146.8" fill="none" stroke="#000" stroke-width="1.0"/>
<path d="M44.7 446.4H46.5" stroke="#000" stroke-width="1.0"/>
<text x="44" y="450.35" font-size="9" text-anchor="end" textLength="5.1" lengthAdjust="spacingAndGlyphs" stroke="#000" stroke-width="0.4">0</text>
<path d="M44.7 427.22H46.5" stroke="#000" stroke-width="1.0"/>
<text x="44" y="431.17" font-size="9" text-anchor="end" textLength="10.2" lengthAdjust="spacingAndGlyphs" stroke="#000" stroke-width="0.4">20</text>
<path d="M44.7 408.05H46.5" stroke="#000" stroke-width="1.0"/>
<text x="44" y="412" font-size="9" text-anchor="end" textLength="10.2" lengthAdjust="spacingAndGlyphs" stroke="#000" stroke-width="0.4">40</text>
<path d="M44.7 388.88H46.5" stroke="#000" stroke-width="1.0"/>
<text x="44" y="392.82" font-size="9" text-anchor="end" textLength="10.2" lengthAdjust="spacingAndGlyphs" stroke="#000" stroke-width="0.4">60</text>
<path d="M44.7 369.7H46.5" stroke="#000" stroke-width="1.0"/>
<text x="44" y="373.65" font-size="9" text-anchor="end" textLength="10.2" lengthAdjust="spacingAndGlyphs" stroke="#000" stroke-width="0.4">80</text>
<path d="M66.6 446.4V448.4" stroke="#000" stroke-width="1.0"/>
<text x="66.6" y="457.9" font-size="9" text-anchor="middle" textLength="5.1" lengthAdjust="spacingAndGlyphs" stroke="#000" stroke-width="0.4">0</text>
<path d="M96.3 446.4V448.4" stroke="#000" stroke-width="1.0"/>
<text x="96.3" y="457.9" font-size="9" text-anchor="middle" textLength="5.1" lengthAdjust="spacingAndGlyphs" stroke="#000" stroke-width="0.4">3</text>
<path d="M126.8 446.4V448.4" stroke="#000" stroke-width="1.0"/>
<text x="126.8" y="457.9" font-size="9" text-anchor="middle" textLength="5.1" lengthAdjust="spacingAndGlyphs" stroke="#000" stroke-width="0.4">6</text>
<text x="96.8" y="467.7" font-size="8.8" text-anchor="middle" textLength="32.3" lengthAdjust="spacingAndGlyphs" stroke="#000" stroke-width="0.4">Time (d)</text>
<text x="27.7" y="405.6" font-size="8" text-anchor="middle" textLength="46.4" lengthAdjust="spacingAndGlyphs" transform="rotate(-90 27.7 405.6)" stroke="#000" stroke-width="0.4">IL-12 (pg/mL)</text>
<path d="M66.6 446.5 L96.3 434.94 L126.8 406.33" fill="none" stroke="#000" stroke-width="1.0"/>
<path d="M66.6 446.5 L96.3 442.24 L126.8 424.23" fill="none" stroke="#000" stroke-width="1.0"/>
<path d="M66.6 446.5 L96.3 443.66 L126.8 436.84" fill="none" stroke="#000" stroke-width="1.0"/>
<path d="M96.3 446.5V423.19M94.4 423.19H98.2M94.4 446.5H98.2" stroke="#000" stroke-width="1.1" fill="none"/>
<path d="M126.8 414.66V393.82M124.9 393.82H128.7M124.9 414.66H128.7" stroke="#000" stroke-width="1.1" fill="none"/>
<path d="M126.8 430.58V418.07M124.9 418.07H128.7M124.9 430.58H128.7" stroke="#000" stroke-width="1.1" fill="none"/>
<path d="M126.8 440.25V433.33M124.9 433.33H128.7M124.9 440.25H128.7" stroke="#000" stroke-width="1.1" fill="none"/>
<circle cx="66.6" cy="446.5" r="1.7" fill="none" stroke="#000" stroke-width="1"/>
<circle cx="96.3" cy="442.24" r="1.7" fill="none" stroke="#000" stroke-width="1"/>
<circle cx="126.8" cy="424.23" r="1.7" fill="none" stroke="#000" stroke-width="1"/>
<path d="M66.6 444.12L68.78 448.02L64.41 448.02Z" fill="#000"/>
<path d="M96.3 441.28L98.48 445.18L94.11 445.18Z" fill="#000"/>
<path d="M126.8 434.46L128.98 438.36L124.61 438.36Z" fill="#000"/>
<circle cx="66.6" cy="446.5" r="2" fill="#000"/>
<circle cx="96.3" cy="434.94" r="2" fill="#000"/>
<circle cx="126.8" cy="406.33" r="2" fill="#000"/>
<path d="M124.58 377.4L125.28 378.53L126.57 378.85L125.72 379.87L125.81 381.2L124.58 380.7L123.34 381.2L123.43 379.87L122.58 378.85L123.87 378.53Z" fill="#000"/>
<path d="M129.43 377.4L130.13 378.53L131.42 378.85L130.57 379.87L130.66 381.2L129.43 380.7L128.19 381.2L128.28 379.87L127.43 378.85L128.72 378.53Z" fill="#000"/>
<path d="M194.3 369.7V446.4H294" fill="none" stroke="#000" stroke-width="1.0"/>
<path d="M192.5 446.4H194.3" stroke="#000" stroke-width="1.0"/>
<text x="191.8" y="450.35" font-size="9" text-anchor="end" textLength="5.1" lengthAdjust="spacingAndGlyphs" stroke="#000" stroke-width="0.4">0</text>
<path d="M192.5 427.22H194.3" stroke="#000" stroke-width="1.0"/>
<text x="191.8" y="431.17" font-size="9" text-anchor="end" textLength="10.2" lengthAdjust="spacingAndGlyphs" stroke="#000" stroke-width="0.4">20</text>
<path d="M192.5 408.05H194.3" stroke="#000" stroke-width="1.0"/>
<text x="191.8" y="412" font-size="9" text-anchor="end" textLength="10.2" lengthAdjust="spacingAndGlyphs" stroke="#000" stroke-width="0.4">40</text>
<path d="M192.5 388.88H194.3" stroke="#000" stroke-width="1.0"/>
<text x="191.8" y="392.82" font-size="9" text-anchor="end" textLength="10.2" lengthAdjust="spacingAndGlyphs" stroke="#000" stroke-width="0.4">60</text>
<path d="M192.5 369.7H194.3" stroke="#000" stroke-width="1.0"/>
<text x="191.8" y="373.65" font-size="9" text-anchor="end" textLength="10.2" lengthAdjust="spacingAndGlyphs" stroke="#000" stroke-width="0.4">80</text>
<path d="M214.3 446.4V448.4" stroke="#000" stroke-width="1.0"/>
<text x="214.3" y="457.9" font-size="9" text-anchor="middle" textLength="5.1" lengthAdjust="spacingAndGlyphs" stroke="#000" stroke-width="0.4">0</text>
<path d="M244.1 446.4V448.4" stroke="#000" stroke-width="1.0"/>
<text x="244.1" y="457.9" font-size="9" text-anchor="middle" textLength="5.1" lengthAdjust="spacingAndGlyphs" stroke="#000" stroke-width="0.4">3</text>
<path d="M274.4 446.4V448.4" stroke="#000" stroke-width="1.0"/>
<text x="274.4" y="457.9" font-size="9" text-anchor="middle" textLength="5.1" lengthAdjust="spacingAndGlyphs" stroke="#000" stroke-width="0.4">6</text>
<text x="244.6" y="467.7" font-size="8.8" text-anchor="middle" textLength="32.3" lengthAdjust="spacingAndGlyphs" stroke="#000" stroke-width="0.4">Time (d)</text>
<text x="174.9" y="405.65" font-size="8" text-anchor="middle" textLength="46.6" lengthAdjust="spacingAndGlyphs" transform="rotate(-90 174.9 405.65)" stroke="#000" stroke-width="0.4">IL-10 (pg/mL)</text>
<path d="M214.3 446.5 L244.1 435.32 L274.4 420.73" fill="none" stroke="#000" stroke-width="1.0"/>
<path d="M214.3 446.5 L244.1 442.24 L274.4 436.65" fill="none" stroke="#000" stroke-width="1.0"/>
<path d="M214.3 446.5 L244.1 442.24 L274.4 439.68" fill="none" stroke="#000" stroke-width="1.0"/>
<path d="M244.1 443.09V427.55M242.2 427.55H246M242.2 443.09H246" stroke="#000" stroke-width="1.1" fill="none"/>
<path d="M274.4 430.87V409.17M272.5 409.17H276.3M272.5 430.87H276.3" stroke="#000" stroke-width="1.1" fill="none"/>
<path d="M274.4 446.5V425.37M272.5 425.37H276.3M272.5 446.5H276.3" stroke="#000" stroke-width="1.1" fill="none"/>
<path d="M274.4 443.66V436.08M272.5 436.08H276.3M272.5 443.66H276.3" stroke="#000" stroke-width="1.1" fill="none"/>
<circle cx="214.3" cy="446.5" r="1.7" fill="none" stroke="#000" stroke-width="1"/>
<circle cx="244.1" cy="442.24" r="1.7" fill="none" stroke="#000" stroke-width="1"/>
<circle cx="274.4" cy="436.65" r="1.7" fill="none" stroke="#000" stroke-width="1"/>
<path d="M214.3 444.6L216.05 447.72L212.55 447.72Z" fill="#000"/>
<path d="M244.1 433.42L245.85 436.54L242.35 436.54Z" fill="#000"/>
<path d="M274.4 418.83L276.15 421.94L272.65 421.94Z" fill="#000"/>
<circle cx="214.3" cy="446.5" r="2" fill="#000"/>
<circle cx="244.1" cy="442.24" r="2" fill="#000"/>
<circle cx="274.4" cy="439.68" r="2" fill="#000"/>
<path d="M269.75 378.7L270.46 379.83L271.75 380.15L270.89 381.17L270.98 382.5L269.75 382L268.52 382.5L268.61 381.17L267.75 380.15L269.04 379.83Z" fill="#000"/>
<path d="M274.6 378.7L275.31 379.83L276.6 380.15L275.74 381.17L275.83 382.5L274.6 382L273.37 382.5L273.46 381.17L272.6 380.15L273.89 379.83Z" fill="#000"/>
<path d="M279.45 378.7L280.16 379.83L281.45 380.15L280.59 381.17L280.68 382.5L279.45 382L278.22 382.5L278.31 381.17L277.45 380.15L278.74 379.83Z" fill="#000"/>
<path d="M322.4 143.1H330.8" stroke="#000" stroke-width="1.0"/>
<circle cx="326.7" cy="143.1" r="2" fill="#000"/>
<text x="336.1" y="146.3" font-size="8.9" text-anchor="start" textLength="15.6" lengthAdjust="spacingAndGlyphs" stroke="#000" stroke-width="0.5">Th1</text>
<path d="M322.4 161.5H330.8" stroke="#000" stroke-width="1.0"/>
<circle cx="326.7" cy="161.5" r="1.7" fill="none" stroke="#000" stroke-width="1"/>
<text x="336.1" y="164.7" font-size="8.9" text-anchor="start" textLength="22.2" lengthAdjust="spacingAndGlyphs" stroke="#000" stroke-width="0.5">Th17</text>
<path d="M322.4 180.9H330.8" stroke="#000" stroke-width="1.0"/>
<path d="M326.7 179L328.45 182.12L324.95 182.12Z" fill="#000"/>
<text x="336.1" y="184.1" font-size="8.9" text-anchor="start" textLength="84" lengthAdjust="spacingAndGlyphs" stroke="#000" stroke-width="0.5">Th1/Th17-depleted</text>
<path d="M322.4 397.7H330.8" stroke="#000" stroke-width="1.0"/>
<circle cx="326.7" cy="397.7" r="2" fill="#000"/>
<text x="336.1" y="400.9" font-size="8.9" text-anchor="start" textLength="15.6" lengthAdjust="spacingAndGlyphs" stroke="#000" stroke-width="0.5">Th1</text>
<path d="M322.4 416.5H330.8" stroke="#000" stroke-width="1.0"/>
<circle cx="326.7" cy="416.5" r="1.7" fill="none" stroke="#000" stroke-width="1"/>
<text x="336.1" y="419.7" font-size="8.9" text-anchor="start" textLength="22.2" lengthAdjust="spacingAndGlyphs" stroke="#000" stroke-width="0.5">Th17</text>
<path d="M322.4 435.3H330.8" stroke="#000" stroke-width="1.0"/>
<path d="M326.7 433.4L328.45 436.52L324.95 436.52Z" fill="#000"/>
<text x="336.1" y="438.5" font-size="8.9" text-anchor="start" textLength="84" lengthAdjust="spacingAndGlyphs" stroke="#000" stroke-width="0.5">Th1/Th17-depleted</text>
<text x="4.2" y="6.6" font-size="7.6" text-anchor="start" font-weight="bold" stroke="#000" stroke-width="0.6" style="font-family:'Liberation Serif',serif">A</text>
<text x="4.8" y="262" font-size="7.6" text-anchor="start" font-weight="bold" stroke="#000" stroke-width="0.6" style="font-family:'Liberation Serif',serif">B</text>
</svg>
</body></html>
